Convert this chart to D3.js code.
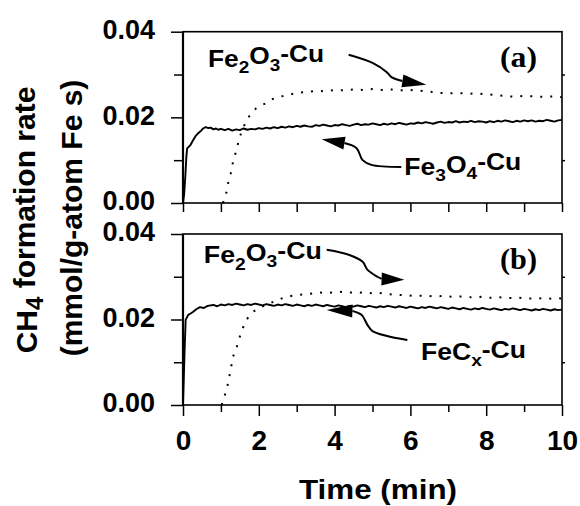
<!DOCTYPE html>
<html lang="en">
<head>
<meta charset="UTF-8">
<title>CH4 formation rate</title>
<script src="https://d3js.org/d3.v7.min.js"></script>
<style>
    body { margin: 0; background: #fff; }
    svg { display: block; font-family: "Liberation Sans", Arial, sans-serif; font-weight: bold; }
    .axis path { display: none; }
    .axis line { stroke: #000; stroke-width: 1.5; }
    .axis text { font-family: "Liberation Sans", Arial, sans-serif; font-weight: bold; fill: #000; }
</style>
</head>
<body>
<div id="chart"></div>
<script>
// ---- data (time in min, rate in mmol/g-atom Fe s) ----
const xMajorTicks = [0, 2, 4, 6, 8, 10];
const xMinorTicks = [1, 3, 5, 7, 9];
const yMajorTicks = [0, 0.02, 0.04];
const yMinorTicks = [0.01, 0.03];

// common 0.1 min sampling of the solid traces after the first minute
const tailTimes = [1.1,1.2,1.3,1.4,1.5,1.6,1.7,1.8,1.9,2.0,
    2.1,2.2,2.3,2.4,2.5,2.6,2.7,2.8,2.9,3.0,3.1,3.2,3.3,3.4,3.5,3.6,3.7,3.8,3.9,4.0,
    4.1,4.2,4.3,4.4,4.5,4.6,4.7,4.8,4.9,5.0,5.1,5.2,5.3,5.4,5.5,5.6,5.7,5.8,5.9,6.0,
    6.1,6.2,6.3,6.4,6.5,6.6,6.7,6.8,6.9,7.0,7.1,7.2,7.3,7.4,7.5,7.6,7.7,7.8,7.9,8.0,
    8.1,8.2,8.3,8.4,8.5,8.6,8.7,8.8,8.9,9.0,9.1,9.2,9.3,9.4,9.5,9.6,9.7,9.8,9.9,10.0];

// (a) Fe3O4-Cu, solid
const fe3o4HeadT = [0, 0.03, 0.06, 0.09, 0.11, 0.15, 0.2, 0.27, 0.33, 0.4, 0.47, 0.53, 0.6, 0.67, 0.73, 0.8, 0.87, 0.93, 1.0];
const fe3o4HeadV = [0, 0.002, 0.006, 0.011, 0.0128, 0.0131, 0.0136, 0.0147, 0.0156, 0.0163, 0.0168, 0.0174, 0.0177, 0.0175, 0.0176, 0.0172, 0.0174, 0.0171, 0.0173];
const fe3o4TailV = [0.0170,0.0173,0.0169,0.0172,0.0170,0.0174,0.0171,0.0173,0.0172,0.0175,
    0.0173,0.0176,0.0174,0.0177,0.0175,0.0178,0.0176,0.0179,0.0177,0.0180,
    0.0178,0.0181,0.0179,0.0178,0.0182,0.0180,0.0183,0.0181,0.0179,0.0182,
    0.0181,0.0184,0.0182,0.0180,0.0183,0.0185,0.0182,0.0184,0.0183,0.0186,
    0.0184,0.0182,0.0185,0.0183,0.0186,0.0184,0.0187,0.0185,0.0183,0.0186,
    0.0185,0.0188,0.0186,0.0189,0.0187,0.0185,0.0188,0.0190,0.0187,0.0189,
    0.0188,0.0191,0.0188,0.0190,0.0189,0.0192,0.0189,0.0191,0.0190,0.0188,
    0.0191,0.0189,0.0192,0.0190,0.0193,0.0191,0.0189,0.0192,0.0190,0.0193,
    0.0191,0.0193,0.0190,0.0192,0.0191,0.0194,0.0192,0.0190,0.0193,0.0194];

// (a) Fe2O3-Cu, dotted
const fe2o3aT = [1.05,1.12,1.19,1.26,1.32,1.41,1.5,1.6,1.71,1.82,1.93,2.05,2.2,2.37,2.55,2.75,3.0,3.25,3.5,3.75,
    4.0,4.25,4.5,4.75,5.0,5.25,5.5,5.75,6.0,6.25,6.5,6.75,7.0,7.25,7.5,7.75,8.0,8.25,8.5,8.75,9.0,9.25,9.5,9.75,10.0];
const fe2o3aV = [0,0.0013,0.0046,0.0069,0.0096,0.0124,0.0155,0.0178,0.0198,0.0211,0.0221,0.0228,0.0233,0.0243,0.0248,0.0252,0.0257,0.0259,0.0262,0.0261,
    0.0264,0.0263,0.0265,0.0264,0.0266,0.0264,0.0265,0.0263,0.0264,0.0262,0.0260,0.0257,0.0256,0.0257,0.0255,0.0256,0.0254,0.0252,0.0250,0.0248,0.0250,0.0249,0.0248,0.0249,0.0247];

// (b) FeCx-Cu, solid
const fecxHeadT = [0, 0.02, 0.04, 0.07, 0.14, 0.2, 0.27, 0.35, 0.45, 0.55, 0.65, 0.8, 0.9, 1.0];
const fecxHeadV = [0, 0.006, 0.0121, 0.0199, 0.0211, 0.0214, 0.0218, 0.0224, 0.0229, 0.0227, 0.0232, 0.0234, 0.0231, 0.0235];
const fecxTailV = [0.0233,0.0236,0.0234,0.0237,0.0235,0.0233,0.0236,0.0234,0.0237,0.0235,
    0.0233,0.0236,0.0234,0.0232,0.0235,0.0233,0.0236,0.0234,0.0232,0.0235,
    0.0233,0.0231,0.0234,0.0232,0.0235,0.0233,0.0231,0.0234,0.0232,0.0230,
    0.0233,0.0231,0.0229,0.0232,0.0230,0.0233,0.0231,0.0229,0.0232,0.0230,
    0.0228,0.0231,0.0229,0.0232,0.0230,0.0228,0.0231,0.0229,0.0227,0.0230,
    0.0228,0.0226,0.0229,0.0227,0.0230,0.0228,0.0226,0.0229,0.0227,0.0225,
    0.0228,0.0226,0.0224,0.0227,0.0225,0.0223,0.0226,0.0224,0.0227,0.0225,
    0.0223,0.0226,0.0224,0.0222,0.0225,0.0223,0.0226,0.0224,0.0222,0.0225,
    0.0223,0.0221,0.0224,0.0222,0.0225,0.0223,0.0221,0.0224,0.0222,0.0223];

// (b) Fe2O3-Cu, dotted
const fe2o3bT = [1.02,1.06,1.15,1.23,1.32,1.41,1.5,1.58,1.67,1.76,1.85,2.0,2.2,2.4,2.63,2.85,3.1,3.35,3.6,3.85,
    4.1,4.35,4.6,4.85,5.1,5.35,5.6,5.85,6.1,6.35,6.6,6.85,7.1,7.35,7.6,7.85,8.1,8.35,8.6,8.85,9.1,9.35,9.6,9.85,10.0];
const fe2o3bV = [0,0.0012,0.0035,0.007,0.0113,0.0133,0.016,0.018,0.0199,0.0209,0.0218,0.0227,0.0234,0.0242,0.025,0.0255,0.0258,0.026,0.0263,0.0262,
    0.0265,0.0263,0.0264,0.0261,0.0263,0.026,0.0258,0.0257,0.0255,0.0256,0.0254,0.0255,0.0253,0.0254,0.0252,0.0253,0.0251,0.0252,0.025,0.0251,0.0249,0.025,0.0248,0.025,0.0249];

// annotation arrows, in data units [time, rate]; last point is the arrow tip
const arrowA1 = [[4.37,0.0346],[5.0,0.0327],[5.37,0.0306],[5.5,0.0294],[5.79,0.0285]];
const tipA1 = [6.42,0.0276];
const arrowA2 = [[5.76,0.0084],[4.97,0.0089],[4.74,0.0100],[4.58,0.0128],[4.26,0.0140]];
const tipA2 = [3.66,0.0149];
const arrowB1 = [[3.79,0.0363],[4.39,0.0351],[4.74,0.0335],[4.87,0.0316],[5.13,0.0300],[5.24,0.0295]];
const tipB1 = [5.84,0.0293];
const arrowB2 = [[5.92,0.0152],[5.0,0.0173],[4.87,0.0187],[4.71,0.0211],[4.47,0.0220]];
const tipB2 = [3.79,0.0222];

const zip = (t, v) => t.map((d, i) => [d, v[i]]);

const panels = [
    {
        range: [203, 31.7], tag: "(a)",
        solid: zip(fe3o4HeadT.concat(tailTimes), fe3o4HeadV.concat(fe3o4TailV)),
        dotted: zip(fe2o3aT, fe2o3aV),
        arrows: [{pts: arrowA1, tip: tipA1}, {pts: arrowA2, tip: tipA2}],
        labels: [
            {parts: [["Fe"],["2",1],["O"],["3",1],["-Cu"]], at: [0.66, 0.0318], len: 116},
            {parts: [["Fe"],["3",1],["O"],["4",1],["-Cu"]], at: [5.84, 0.0065], len: 117}
        ]
    },
    {
        range: [405, 234], tag: "(b)",
        solid: zip(fecxHeadT.concat(tailTimes), fecxHeadV.concat(fecxTailV)),
        dotted: zip(fe2o3bT, fe2o3bV),
        arrows: [{pts: arrowB1, tip: tipB1}, {pts: arrowB2, tip: tipB2}],
        labels: [
            {parts: [["Fe"],["2",1],["O"],["3",1],["-Cu"]], at: [0.55, 0.0331], len: 118},
            {parts: [["FeC"],["x",1],["-Cu"]], at: [6.28, 0.0105], len: 105}
        ]
    }
];

const width = 580, height = 506;
const svg = d3.select("#chart").append("svg")
    .attr("width", width).attr("height", height);

const x = d3.scaleLinear().domain([0, 10]).range([183, 562]);

function subText(g, parts, size) {
    const t = g.append("text").attr("font-size", size).attr("fill", "#000");
    let down = false;
    parts.forEach(p => {
        const ts = t.append("tspan").text(p[0]);
        if (p[1] && !down) { ts.attr("dy", "0.38em").attr("font-size", "72%"); down = true; }
        else if (!p[1] && down) { ts.attr("dy", "-0.38em"); down = false; }
        else if (p[1]) ts.attr("font-size", "72%");
    });
    return t;
}

panels.forEach((p, i) => {
    const y = d3.scaleLinear().domain([0, 0.04]).range(p.range);
    const g = svg.append("g");

    // left axis
    g.append("g").attr("class", "axis").attr("transform", `translate(${x(0)},0)`)
        .call(d3.axisLeft(y).tickValues(yMajorTicks).tickSize(12).tickPadding(16).tickFormat(d3.format(".2f")))
        .call(a => a.selectAll("text").attr("font-size", 27).attr("dy", "0.25em"));
    g.append("g").attr("class", "axis").attr("transform", `translate(${x(0)},0)`)
        .call(d3.axisLeft(y).tickValues(yMinorTicks).tickSize(9).tickFormat(""));
    // right axis
    g.append("g").attr("class", "axis").attr("transform", `translate(${x(10)},0)`)
        .call(d3.axisRight(y).tickValues(yMinorTicks).tickSize(3).tickFormat(""));

    // bottom axis
    if (i === 0) {
        g.append("g").attr("class", "axis").attr("transform", `translate(0,${y(0)})`)
            .call(d3.axisBottom(x).tickValues(xMajorTicks.concat(xMinorTicks)).tickSize(9).tickFormat(""));
    } else {
        g.append("g").attr("class", "axis").attr("transform", `translate(0,${y(0)})`)
            .call(d3.axisBottom(x).tickValues(xMajorTicks).tickSize(11).tickPadding(14).tickFormat(d3.format("d")))
            .call(a => a.selectAll("text").attr("font-size", 28));
        g.append("g").attr("class", "axis").attr("transform", `translate(0,${y(0)})`)
            .call(d3.axisBottom(x).tickValues(xMinorTicks).tickSize(7).tickFormat(""));
    }

    // frame
    g.append("rect")
        .attr("x", x(0)).attr("y", y(0.04))
        .attr("width", x(10) - x(0)).attr("height", y(0) - y(0.04))
        .attr("fill", "none").attr("stroke", "#000").attr("stroke-width", 1.6);
    g.append("line").attr("x1", x(0)).attr("x2", x(0)).attr("y1", y(0.04)).attr("y2", y(0))
        .attr("stroke", "#000").attr("stroke-width", 2.2);

    const line = d3.line().x(d => x(d[0])).y(d => y(d[1]));

    g.append("path").datum(p.dotted)
        .attr("d", line).attr("fill", "none").attr("stroke", "#000")
        .attr("stroke-width", 2).attr("stroke-dasharray", "2 8");
    g.append("path").datum(p.solid)
        .attr("d", line).attr("fill", "none").attr("stroke", "#000")
        .attr("stroke-width", 1.9).attr("stroke-linejoin", "round");

    // arrows
    const curve = d3.line().x(d => x(d[0])).y(d => y(d[1])).curve(d3.curveCatmullRom);
    p.arrows.forEach(a => {
        g.append("path").datum(a.pts).attr("d", curve)
            .attr("fill", "none").attr("stroke", "#000").attr("stroke-width", 2);
        const base = a.pts[a.pts.length - 1];
        const bx = x(base[0]), by = y(base[1]), tx = x(a.tip[0]), ty = y(a.tip[1]);
        const ang = Math.atan2(ty - by, tx - bx), hw = 6.5;
        const nx = -Math.sin(ang) * hw, ny = Math.cos(ang) * hw;
        g.append("path")
            .attr("d", `M${tx},${ty}L${bx + nx},${by + ny}L${bx - nx},${by - ny}Z`)
            .attr("fill", "#000");
    });

    // labels
    p.labels.forEach(l => {
        subText(g, l.parts, 23)
            .attr("x", x(l.at[0])).attr("y", y(l.at[1]))
            .attr("textLength", l.len).attr("lengthAdjust", "spacingAndGlyphs");
    });
    g.append("text").text(p.tag)
        .attr("x", x(9.34)).attr("y", y(0.0318)).attr("text-anchor", "end")
        .attr("font-family", "'Liberation Serif', 'Times New Roman', serif")
        .attr("font-weight", "bold").attr("font-size", 30)
        .attr("textLength", 37).attr("lengthAdjust", "spacingAndGlyphs");
});

// axis titles
const yl1 = svg.append("text").attr("transform", "translate(37,220) rotate(-90)")
    .attr("text-anchor", "middle").attr("font-size", 30);
yl1.append("tspan").text("CH");
yl1.append("tspan").text("4").attr("font-size", "80%").attr("dy", "0.27em");
yl1.append("tspan").text(" formation rate").attr("dy", "-0.27em");

svg.append("text").attr("transform", "translate(82,218) rotate(-90)")
    .attr("text-anchor", "middle").attr("font-size", 30)
    .text("(mmol/g-atom Fe s)");

svg.append("text").attr("x", 378).attr("y", 499)
    .attr("text-anchor", "middle").attr("font-size", 27)
    .attr("textLength", 158).attr("lengthAdjust", "spacingAndGlyphs")
    .text("Time (min)");
</script>
</body>
</html>
